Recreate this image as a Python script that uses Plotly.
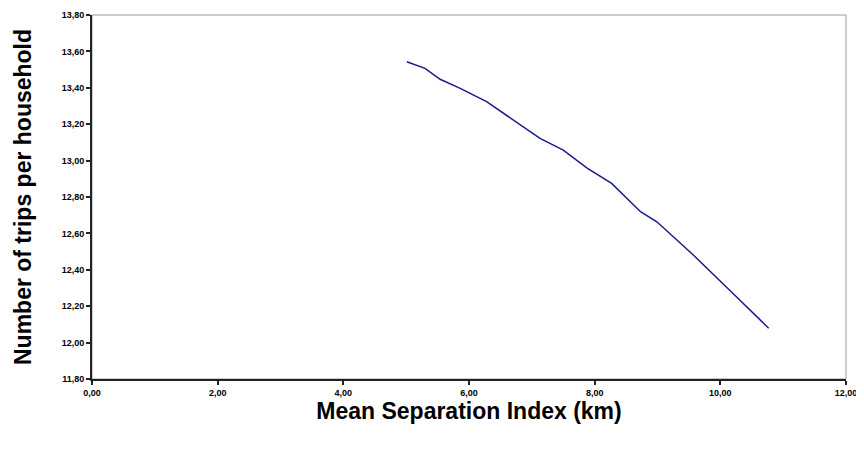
import plotly.graph_objects as go

msi_km = [5.01, 5.30, 5.54, 5.86, 6.28, 6.71, 7.13, 7.50, 7.77, 7.88, 8.27, 8.73, 8.99, 9.36, 9.57, 10.21, 10.77]
trips = [13.543, 13.507, 13.447, 13.397, 13.324, 13.223, 13.122, 13.058, 12.985, 12.959, 12.875, 12.719,
         12.664, 12.545, 12.481, 12.267, 12.079]

x_ticks = [0, 2, 4, 6, 8, 10, 12]
x_labels = ["0,00", "2,00", "4,00", "6,00", "8,00", "10,00", "12,00"]
y_ticks = [11.8, 12.0, 12.2, 12.4, 12.6, 12.8, 13.0, 13.2, 13.4, 13.6, 13.8]
y_labels = ["11,80", "12,00", "12,20", "12,40", "12,60", "12,80", "13,00", "13,20", "13,40", "13,60", "13,80"]

fig = go.Figure()
fig.add_trace(go.Scatter(x=msi_km, y=trips, mode="lines",
                         line=dict(color="#1a1a8c", width=1.5), showlegend=False))

fig.update_layout(
    width=856, height=441,
    margin=dict(l=84, r=18, t=7, b=70),
    paper_bgcolor="white", plot_bgcolor="white",
    font=dict(family="Liberation Sans, Arial, sans-serif", color="black"),
    shapes=[dict(type="rect", xref="paper", yref="paper", x0=0, y0=0, x1=1, y1=1,
                 line=dict(color="#999999", width=1), layer="below")],
)
fig.update_xaxes(range=[0, 12], tickvals=x_ticks, ticktext=x_labels, automargin=False,
                 showgrid=False, zeroline=False, showline=True, linecolor="#222222", linewidth=2,
                 ticks="outside", ticklen=4, tickwidth=1.5, tickcolor="#222222",
                 tickfont=dict(size=9, family="Liberation Sans, Arial", weight="bold"),
                 title=dict(text="<b>Mean Separation Index (km)</b>", font=dict(size=23), standoff=6))
fig.update_yaxes(range=[11.8, 13.8], tickvals=y_ticks, ticktext=y_labels, automargin=False,
                 showgrid=False, zeroline=False, showline=True, linecolor="#222222", linewidth=2,
                 ticks="outside", ticklen=4, tickwidth=1.5, tickcolor="#222222",
                 tickfont=dict(size=9, family="Liberation Sans, Arial", weight="bold"),
                 title=dict(text="<b>Number of trips per household</b>", font=dict(size=23), standoff=24))

fig.write_html("out.html")
